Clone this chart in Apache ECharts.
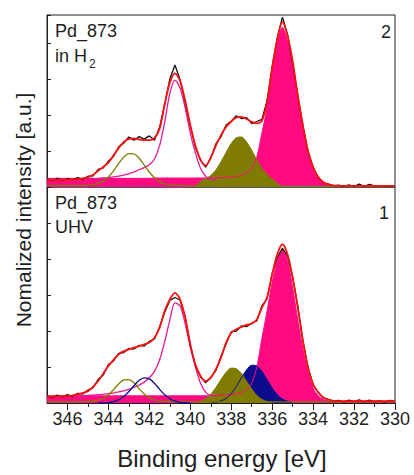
<!DOCTYPE html>
<html>
<head>
<meta charset="utf-8">
<script src="https://cdn.jsdelivr.net/npm/echarts@6/dist/echarts.min.js"></script>
<style>
  html, body { margin: 0; padding: 0; background: #fff; }
  #chart { width: 414px; height: 475px; }
</style>
</head>
<body>
<div id="chart"></div>
<script>
// Pd 3d XPS spectra of sample Pd_873, binding energy grid in eV (0.25 eV steps)
const energy = [
  347, 346.75, 346.5, 346.25, 346, 345.75, 345.5, 345.25,
  345, 344.75, 344.5, 344.25, 344, 343.75, 343.5, 343.25,
  343, 342.75, 342.5, 342.25, 342, 341.75, 341.5, 341.25,
  341, 340.75, 340.5, 340.25, 340, 339.75, 339.5, 339.25,
  339, 338.75, 338.5, 338.25, 338, 337.75, 337.5, 337.25,
  337, 336.75, 336.5, 336.25, 336, 335.75, 335.5, 335.25,
  335, 334.75, 334.5, 334.25, 334, 333.75, 333.5, 333.25,
  333, 332.75, 332.5, 332.25, 332, 331.75, 331.5, 331.25,
  331, 330.75, 330.5, 330.25, 330
];
const _ = null; // no component intensity at this energy

// ---- Panel 2: Pd_873 in H2 ----
const h2Data = [
  0.22, 0.17, 0.24, 0.18, 0.23, 0.2, 0.26, 0.21,
  0.3, 0.31, 0.49, 0.53, 0.72, 0.85, 1.12, 1.22,
  1.39, 1.3, 1.4, 1.33, 1.42, 1.3, 1.66, 2.3,
  3.0, 3.39, 2.98, 2.35, 1.7, 1.1, 0.74, 0.55,
  0.8, 1.2, 1.4, 1.72, 1.83, 1.98, 1.9, 1.93,
  1.76, 1.82, 1.88, 2.4, 3.35, 4.15, 4.72, 4.25,
  3.45, 2.55, 1.7, 1.0, 0.55, 0.27, 0.12, 0.08,
  0.04, 0.05, 0.02, 0.06, 0.01, 0.08, 0.02, 0.07,
  0.03, 0.04, 0.02, 0.03, 0.03
];
const h2Fit = [
  0.19, 0.19, 0.2, 0.2, 0.2, 0.21, 0.22, 0.24,
  0.27, 0.34, 0.45, 0.56, 0.68, 0.88, 1.08, 1.25,
  1.34, 1.35, 1.32, 1.3, 1.3, 1.36, 1.62, 2.3,
  2.9, 3.16, 2.95, 2.4, 1.72, 1.15, 0.76, 0.6,
  0.82, 1.15, 1.44, 1.67, 1.82, 1.93, 1.95, 1.89,
  1.81, 1.77, 1.84, 2.35, 3.3, 4.1, 4.58, 4.2,
  3.5, 2.55, 1.72, 1.0, 0.55, 0.28, 0.13, 0.07,
  0.04, 0.03, 0.03, 0.03, 0.03, 0.03, 0.03, 0.03,
  0.03, 0.03, 0.03, 0.03, 0.03
];
// metallic Pd 3d5/2 (filled)
const h2Pd52 = [
  0.24, 0.24, 0.24, 0.24, 0.24, 0.24, 0.24, 0.24,
  0.24, 0.24, 0.24, 0.24, 0.24, 0.24, 0.24, 0.24,
  0.24, 0.24, 0.24, 0.24, 0.24, 0.25, 0.25, 0.25,
  0.25, 0.25, 0.25, 0.25, 0.25, 0.25, 0.25, 0.25,
  0.25, 0.25, 0.26, 0.27, 0.28, 0.3, 0.33, 0.4,
  0.52, 0.84, 1.5, 2.2, 3.15, 3.95, 4.44, 4.05,
  3.35, 2.45, 1.6, 0.92, 0.48, 0.24, 0.11, 0.06,
  0.03, 0.02, 0.02, 0.02, 0.02, 0.02, 0.02, 0.02,
  0.02, 0.02, 0.02, 0.02, 0.02
];
// oxidic Pd 3d5/2 (filled)
const h2PdO52 = [
  _, _, _, _, _, _, _, _,
  _, _, _, _, _, _, _, _,
  _, _, _, _, _, _, _, _,
  _, _, _, _, _, 0, 0.15, 0.23,
  0.32, 0.47, 0.70, 0.96, 1.21, 1.37, 1.39, 1.25,
  1.02, 0.75, 0.51, 0.35, 0.22, 0.1, 0, _,
  _, _, _, _, _, _, _, _,
  _, _, _, _, _, _, _, _,
  _, _, _, _, _
];
// metallic Pd 3d3/2 (line)
const h2Pd32 = [
  0.19, 0.19, 0.2, 0.2, 0.2, 0.2, 0.21, 0.21,
  0.22, 0.23, 0.24, 0.25, 0.26, 0.28, 0.3, 0.33,
  0.37, 0.42, 0.48, 0.54, 0.62, 0.78, 1.15, 1.8,
  2.6, 2.97, 2.75, 2.2, 1.5, 0.95, 0.52, 0.3,
  0.22, 0.2, _, _, _, _, _, _,
  _, _, _, _, _, _, _, _,
  _, _, _, _, _, _, _, _,
  _, _, _, _, _, _, _, _,
  _, _, _, _, _
];
// oxidic Pd 3d3/2 (line)
const h2PdO32 = [
  0.04, 0.04, 0.04, 0.04, 0.04, 0.04, 0.04, 0.04,
  0.05, 0.06, 0.10, 0.17, 0.28, 0.45, 0.65, 0.83,
  0.93, 0.92, 0.80, 0.61, 0.41, 0.26, 0.15, 0.09,
  0.06, 0.05, 0.04, 0.03, 0.03, 0.03, 0.03, 0.03,
  0.03, 0.03, 0.03, 0.03, 0.03, 0.03, 0.03, 0.03,
  0.03, 0.03, 0.03, 0.03, 0.02, 0.02, 0.02, 0.02,
  0.02, 0.02, 0.02, 0.02, 0.02, 0.02, 0.02, 0.02,
  0.02, 0.02, 0.02, 0.02, 0.02, 0.02, 0.02, 0.02,
  0.02, 0.02, 0.02, 0.02, 0.02
];

// ---- Panel 1: Pd_873 UHV ----
const uhvData = [
  0.2, 0.15, 0.22, 0.17, 0.23, 0.18, 0.27, 0.25,
  0.36, 0.42, 0.66, 0.78, 1.07, 1.17, 1.38, 1.4,
  1.52, 1.5, 1.6, 1.58, 1.71, 1.78, 2.12, 2.52,
  2.85, 2.93, 2.86, 2.4, 1.6, 1.05, 0.72, 0.56,
  0.72, 0.9, 1.3, 1.64, 1.98, 2.0, 2.14, 2.12,
  2.22, 2.28, 2.7, 2.9, 3.6, 4.05, 4.3, 4.08,
  3.5, 2.7, 1.75, 1.0, 0.5, 0.3, 0.14, 0.1,
  0.05, 0.07, 0.03, 0.08, 0.04, 0.09, 0.03, 0.08,
  0.04, 0.06, 0.03, 0.07, 0.05
];
const uhvFit = [
  0.17, 0.18, 0.18, 0.19, 0.19, 0.21, 0.24, 0.28,
  0.33, 0.45, 0.61, 0.82, 1.03, 1.2, 1.35, 1.44,
  1.49, 1.54, 1.58, 1.63, 1.68, 1.81, 2.09, 2.56,
  2.88, 3.06, 2.88, 2.37, 1.63, 1.07, 0.75, 0.61,
  0.7, 0.94, 1.26, 1.68, 1.95, 2.05, 2.11, 2.17,
  2.2, 2.32, 2.65, 2.93, 3.57, 4.13, 4.41, 4.13,
  3.48, 2.65, 1.72, 0.98, 0.52, 0.29, 0.15, 0.09,
  0.06, 0.05, 0.05, 0.05, 0.05, 0.05, 0.05, 0.05,
  0.05, 0.05, 0.05, 0.05, 0.05
];
const uhvPd52 = [
  0.2, 0.2, 0.2, 0.2, 0.2, 0.2, 0.2, 0.2,
  0.2, 0.2, 0.2, 0.2, 0.2, 0.2, 0.2, 0.2,
  0.2, 0.2, 0.2, 0.2, 0.2, 0.2, 0.2, 0.2,
  0.2, 0.2, 0.2, 0.2, 0.2, 0.2, 0.2, 0.2,
  0.2, 0.21, 0.22, 0.23, 0.24, 0.26, 0.29, 0.36,
  0.55, 1.0, 1.8, 2.55, 3.35, 3.95, 4.27, 3.95,
  3.2, 2.3, 1.5, 0.85, 0.42, 0.2, 0.1, 0.06,
  0.05, 0.05, 0.05, 0.05, 0.05, 0.05, 0.05, 0.05,
  0.05, 0.05, 0.05, 0.05, 0.05
];
// third (blue) doublet: 3d5/2 filled, 3d3/2 line
const uhvPdS52 = [
  _, _, _, _, _, _, _, _,
  _, _, _, _, _, _, _, _,
  _, _, _, _, _, _, _, _,
  _, _, _, _, _, _, _, _,
  0, 0.02, 0.06, 0.13, 0.26, 0.46, 0.70, 0.92,
  1.05, 1.03, 0.88, 0.65, 0.42, 0.23, 0.11, 0.05,
  0, _, _, _, _, _, _, _,
  _, _, _, _, _, _, _, _,
  _, _, _, _, _
];
const uhvPdO52 = [
  _, _, _, _, _, _, _, _,
  _, _, _, _, _, _, _, _,
  _, _, _, _, _, _, _, _,
  _, _, _, _, _, 0, 0.05, 0.12,
  0.24, 0.43, 0.65, 0.85, 0.97, 0.95, 0.82, 0.60,
  0.39, 0.21, 0.10, 0.04, 0, _, _, _,
  _, _, _, _, _, _, _, _,
  _, _, _, _, _, _, _, _,
  _, _, _, _, _
];
const uhvPd32 = [
  0.17, 0.17, 0.18, 0.18, 0.19, 0.19, 0.2, 0.2,
  0.21, 0.22, 0.23, 0.24, 0.26, 0.28, 0.31, 0.34,
  0.38, 0.43, 0.5, 0.58, 0.7, 0.88, 1.2, 1.7,
  2.3, 2.78, 2.7, 2.2, 1.55, 1.0, 0.55, 0.3,
  0.21, 0.2, _, _, _, _, _, _,
  _, _, _, _, _, _, _, _,
  _, _, _, _, _, _, _, _,
  _, _, _, _, _, _, _, _,
  _, _, _, _, _
];
const uhvPdO32 = [
  0.03, 0.03, 0.03, 0.03, 0.03, 0.03, 0.03, 0.03,
  0.05, 0.06, 0.08, 0.13, 0.23, 0.37, 0.53, 0.64,
  0.65, 0.56, 0.40, 0.25, 0.15, 0.09, 0.06, 0.05,
  0.04, 0.03, 0.03, 0.03, 0.03, 0.03, 0.03, 0.03,
  0.03, 0.03, 0.03, 0.03, 0.03, 0.03, 0.03, 0.03,
  0.03, 0.03, 0.03, 0.03, 0.03, 0.03, 0.03, 0.03,
  0.03, 0.03, 0.03, 0.03, 0.03, 0.03, 0.03, 0.03,
  0.03, 0.03, 0.03, 0.03, 0.03, 0.03, 0.03, 0.03,
  0.03, 0.03, 0.03, 0.03, 0.03
];
const uhvPdS32 = [
  _, _, _, _, _, _, _, _,
  _, _, 0, 0, 0.01, 0.04, 0.09, 0.18,
  0.32, 0.48, 0.63, 0.70, 0.67, 0.55, 0.38, 0.23,
  0.12, 0.05, 0.02, 0.01, 0, _, _, _,
  _, _, _, _, _, _, _, _,
  _, _, _, _, _, _, _, _,
  _, _, _, _, _, _, _, _,
  _, _, _, _, _, _, _, _,
  _, _, _, _, _
];

// axis ticks (binding energy, eV)
const xTickLabels = [346, 344, 342, 340, 338, 336, 334, 332, 330];
const xMinorTicks = [345, 343, 341, 339, 337, 335, 333, 331];

const PINK = '#ff0a80';
const PINK_LINE = '#e61a96';
const OLIVE = '#7f7c00';
const NAVY = '#0c0c8e';
const FIT = '#ff1010';
const DATA = '#111111';
const INK = '#1e1e1e';
const FONT = 'Liberation Sans';

function pts(vals) { return energy.map((e, i) => [e, vals[i]]); }

function filled(vals, color, panel) {
  return {
    type: 'line', xAxisIndex: panel, yAxisIndex: panel, data: pts(vals),
    symbol: 'none', smooth: 0.3, connectNulls: false,
    lineStyle: { color: color, width: 1 },
    areaStyle: { color: color, opacity: 1 }
  };
}
function curve(vals, color, width, panel, smooth) {
  return {
    type: 'line', xAxisIndex: panel, yAxisIndex: panel, data: pts(vals),
    symbol: 'none', smooth: smooth, connectNulls: false,
    lineStyle: { color: color, width: width }
  };
}

const gridRect = { left: 47, width: 348 };
const yCommon = {
  type: 'value', min: 0, interval: 1,
  axisLine: { show: true, lineStyle: { color: INK, width: 1 } },
  axisTick: { show: true, inside: true, length: 4, lineStyle: { color: INK } },
  axisLabel: { show: false }, splitLine: { show: false }
};
const xHidden = {
  type: 'value', min: 330, max: 347, inverse: true,
  axisLine: { show: false }, axisTick: { show: false },
  axisLabel: { show: false }, splitLine: { show: false }
};

const chart = echarts.init(document.getElementById('chart'), null,
  { renderer: 'svg', width: 414, height: 475 });

chart.setOption({
  animation: false,
  backgroundColor: '#fff',
  textStyle: { fontFamily: FONT },
  grid: [
    { ...gridRect, top: 15, height: 172, show: true, borderColor: INK, borderWidth: 1, backgroundColor: 'transparent' },
    { ...gridRect, top: 187, height: 216, show: true, borderColor: INK, borderWidth: 1, backgroundColor: 'transparent' },
    { ...gridRect, top: 187, height: 216, show: false }
  ],
  xAxis: [
    { ...xHidden, gridIndex: 0 },
    {
      type: 'value', gridIndex: 1, min: 330, max: 347, inverse: true, position: 'bottom',
      axisLine: { show: true, lineStyle: { color: INK, width: 1 } },
      axisTick: { show: true, length: 7, customValues: xTickLabels, lineStyle: { color: INK } },
      axisLabel: { show: true, customValues: xTickLabels, fontSize: 18, color: INK, margin: 7, fontFamily: FONT },
      splitLine: { show: false }
    },
    {
      type: 'value', gridIndex: 2, min: 330, max: 347, inverse: true, position: 'bottom',
      axisLine: { show: false },
      axisTick: { show: true, length: 4, customValues: xMinorTicks, lineStyle: { color: INK } },
      axisLabel: { show: false }, splitLine: { show: false }
    }
  ],
  yAxis: [
    { ...yCommon, gridIndex: 0, max: 4.78 },
    { ...yCommon, gridIndex: 1, max: 6 },
    { type: 'value', gridIndex: 2, min: 0, max: 6, show: false }
  ],
  series: [
    // in H2
    filled(h2Pd52, PINK, 0),
    filled(h2PdO52, OLIVE, 0),
    curve(h2Pd32, PINK_LINE, 1.3, 0, 0.3),
    curve(h2PdO32, OLIVE, 1.3, 0, 0.3),
    curve(h2Data, DATA, 1.3, 0, false),
    curve(h2Fit, FIT, 1.8, 0, 0.3),
    // UHV
    filled(uhvPd52, PINK, 1),
    filled(uhvPdS52, NAVY, 1),
    filled(uhvPdO52, OLIVE, 1),
    curve(uhvPd32, PINK_LINE, 1.3, 1, 0.3),
    curve(uhvPdO32, OLIVE, 1.3, 1, 0.3),
    curve(uhvPdS32, NAVY, 1.3, 1, 0.3),
    curve(uhvData, DATA, 1.3, 1, false),
    curve(uhvFit, FIT, 1.8, 1, 0.3)
  ],
  graphic: [
    { type: 'text', x: 55, y: 31, style: { text: 'Pd_873', fontSize: 18, fontFamily: FONT, fill: INK, verticalAlign: 'middle' } },
    { type: 'text', x: 55, y: 56, style: { text: 'in H', fontSize: 18, fontFamily: FONT, fill: INK, verticalAlign: 'middle' } },
    { type: 'text', x: 89, y: 64, style: { text: '2', fontSize: 12, fontFamily: FONT, fill: INK, verticalAlign: 'middle' } },
    { type: 'text', x: 391, y: 32, style: { text: '2', fontSize: 18, fontFamily: FONT, fill: INK, align: 'right', verticalAlign: 'middle' } },
    { type: 'text', x: 55, y: 203, style: { text: 'Pd_873', fontSize: 18, fontFamily: FONT, fill: INK, verticalAlign: 'middle' } },
    { type: 'text', x: 55, y: 227, style: { text: 'UHV', fontSize: 18, fontFamily: FONT, fill: INK, verticalAlign: 'middle' } },
    { type: 'text', x: 389, y: 213, style: { text: '1', fontSize: 18, fontFamily: FONT, fill: INK, align: 'right', verticalAlign: 'middle' } },
    { type: 'text', x: 23, y: 210, rotation: Math.PI / 2,
      style: { text: 'Nomalized intensity [a.u.]', fontSize: 21, fontFamily: FONT, fill: INK, align: 'center', verticalAlign: 'middle' } },
    { type: 'text', x: 222, y: 458,
      style: { text: 'Binding energy [eV]', fontSize: 24, fontFamily: FONT, fill: INK, align: 'center', verticalAlign: 'middle' } }
  ]
});
</script>
</body>
</html>
